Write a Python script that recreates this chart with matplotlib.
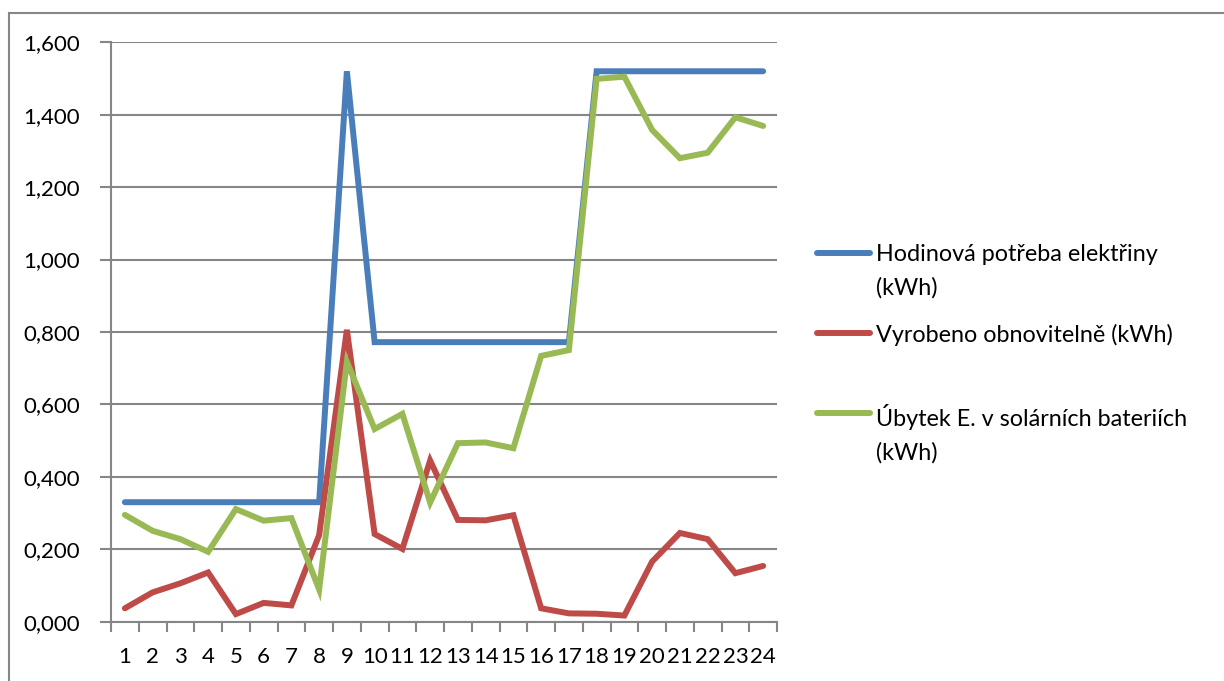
import matplotlib.pyplot as plt
from matplotlib.lines import Line2D
from matplotlib.patches import Rectangle
from matplotlib.ticker import FixedLocator, FuncFormatter

# --- Data ---
hours = list(range(1, 25))
demand = [0.330] * 8 + [1.520] + [0.772] * 8 + [1.520] * 7
renewable = [0.037, 0.081, 0.106, 0.136, 0.021, 0.052, 0.045, 0.239, 0.806,
             0.242, 0.201, 0.445, 0.281, 0.280, 0.294, 0.037, 0.023, 0.022,
             0.017, 0.166, 0.245, 0.228, 0.134, 0.154]
battery = [0.295, 0.251, 0.228, 0.193, 0.311, 0.279, 0.286, 0.089, 0.718,
           0.532, 0.574, 0.329, 0.493, 0.495, 0.479, 0.734, 0.750, 1.499,
           1.505, 1.358, 1.280, 1.295, 1.393, 1.369]
labels = ['Hodinová potřeba elektřiny\n(kWh)',
          'Vyrobeno obnovitelně (kWh)',
          'Úbytek E. v solárních bateriích\n(kWh)']
colors = ['#4A7EBB', '#BE4B48', '#98B954']
y_ticks = [0, 0.2, 0.4, 0.6, 0.8, 1.0, 1.2, 1.4, 1.6]

plt.rcParams['font.family'] = ['Lato', 'DejaVu Sans']
grey = '#868686'
W, H = 1224, 681

fig = plt.figure(figsize=(W / 100, H / 100), dpi=100)
ax = fig.add_axes([111 / W, 1 - 621.7 / H, 666 / W, 579.4 / H])

for series, c in zip([demand, renewable, battery], colors):
    ax.plot(hours, series, color=c, lw=4.3, solid_capstyle='round',
            solid_joinstyle='miter', zorder=3)

# axes styling
ax.set_xlim(0.5, 24.5)
ax.set_ylim(0, 1.6)
ax.set_yticks(y_ticks)
ax.yaxis.set_major_formatter(FuncFormatter(lambda v, p: f'{v:.3f}'.replace('.', ',')))
ax.grid(axis='y', color=grey, lw=1.5, zorder=1)
ax.xaxis.set_major_locator(FixedLocator([h - 0.5 for h in hours] + [24.5]))
ax.xaxis.set_major_formatter(FuncFormatter(lambda v, p: ''))
ax.xaxis.set_minor_locator(FixedLocator(hours))
ax.set_xticklabels([str(h) for h in hours], minor=True)
ax.tick_params(axis='x', which='major', length=7, width=1.5, color=grey, direction='out')
ax.tick_params(axis='x', which='minor', length=0, pad=18.5, labelsize=16)
ax.tick_params(axis='y', length=8, width=1.5, color=grey, direction='out', pad=14.5, labelsize=16)
for s in ['top', 'right']:
    ax.spines[s].set_visible(False)
for s in ['left', 'bottom']:
    ax.spines[s].set_color(grey)
    ax.spines[s].set_linewidth(1.5)
    ax.spines[s].set_zorder(2)

# manual legend (marker aligned with first text line, like Excel)
leg_y = [253, 333, 413]
for lab, c, yp in zip(labels, colors, leg_y):
    yf = 1 - yp / H
    fig.add_artist(Line2D([817 / W, 870 / W], [yf, yf], color=c, lw=4.3,
                          solid_capstyle='round'))
    fig.text(876 / W, yf + 9 / H, lab, fontsize=16.8, va='top', ha='left',
             linespacing=1.7)

# outer chart border (top and left edges visible)
fig.add_artist(Rectangle((9 / W, -0.1), 1.2, 1 - 13 / H + 0.1, fill=False,
                         edgecolor=grey, lw=1.5, transform=fig.transFigure))

fig.savefig('out.png', dpi=100)
